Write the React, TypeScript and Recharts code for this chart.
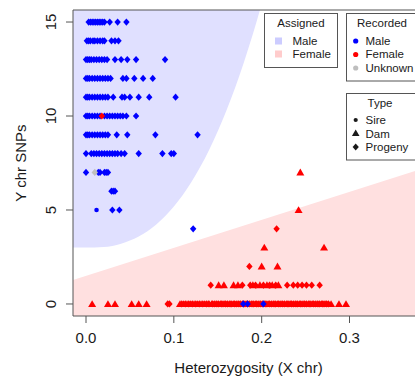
import { ComposedChart, Area, Scatter, XAxis, YAxis, ReferenceArea } from 'recharts'

const X_MIN = -0.0148
const X_MAX = 0.3848
const Y_MIN = -0.64
const Y_MAX = 15.64

const xTicks = [0, 0.1, 0.2, 0.3]
const yTicks = [0, 5, 10, 15]

// boundary of the "assigned male" region (filled up to the top)
const maleRegionEdge = [
  { x: -0.0148, y: 3.0 },
  { x: 0.0, y: 3.0 },
  { x: 0.02, y: 3.03 },
  { x: 0.04, y: 3.21 },
  { x: 0.06, y: 3.59 },
  { x: 0.08, y: 4.23 },
  { x: 0.1, y: 5.18 },
  { x: 0.12, y: 6.49 },
  { x: 0.14, y: 8.18 },
  { x: 0.16, y: 10.3 },
  { x: 0.18, y: 12.89 },
  { x: 0.19, y: 14.36 },
  { x: 0.198, y: 15.64 },
]

// boundary of the "assigned female" region (filled down to the bottom)
const femaleRegionEdge = [
  { x: -0.0148, y: 1.28 },
  { x: 0.3848, y: 7.23 },
]

type Row = [number, number[]]

const maleProgeny: Row[] = [
  [15, [0.003, 0.005, 0.007, 0.009, 0.011, 0.013, 0.015, 0.017, 0.019, 0.021, 0.027, 0.036, 0.046]],
  [14, [0.001, 0.003, 0.005, 0.008, 0.01, 0.013, 0.016, 0.019, 0.021, 0.029, 0.033, 0.037]],
  [13, [0.0, 0.002, 0.004, 0.006, 0.009, 0.012, 0.015, 0.018, 0.021, 0.024, 0.033, 0.04, 0.047, 0.057, 0.09]],
  [12, [0.0, 0.002, 0.004, 0.007, 0.01, 0.013, 0.016, 0.019, 0.022, 0.025, 0.028, 0.042, 0.046, 0.055, 0.065, 0.076]],
  [11, [0.0, 0.002, 0.004, 0.007, 0.01, 0.013, 0.016, 0.019, 0.022, 0.025, 0.031, 0.041, 0.044, 0.05, 0.06, 0.072, 0.102]],
  [10, [0.0, 0.002, 0.004, 0.007, 0.01, 0.013, 0.016, 0.021, 0.024, 0.027, 0.03, 0.033, 0.036, 0.039, 0.042, 0.046, 0.057]],
  [9, [0.0, 0.002, 0.004, 0.007, 0.01, 0.013, 0.016, 0.019, 0.022, 0.025, 0.035, 0.047, 0.079, 0.127]],
  [8, [0.0, 0.006, 0.009, 0.012, 0.015, 0.018, 0.021, 0.024, 0.027, 0.03, 0.033, 0.036, 0.04, 0.044, 0.06, 0.087, 0.097, 0.1]],
  [7, [0.0, 0.014, 0.016, 0.021, 0.023, 0.025]],
  [6, [0.029, 0.031, 0.033]],
  [5, [0.03, 0.038]],
  [4, [0.122]],
]
const maleProgenyLow: Row[] = [[0, [0.179, 0.184, 0.202]]]
const maleSires: Row[] = [[5, [0.012]]]
const unknownProgeny: Row[] = [[7, [0.01]]]

const femaleDams: Row[] = [
  [7, [0.244]],
  [5, [0.242]],
  [3, [0.203, 0.271]],
  [2, [0.2, 0.218]],
  [1, [0.151, 0.157, 0.168, 0.173, 0.19, 0.198, 0.206, 0.212, 0.219]],
  [0, [0.007, 0.025, 0.033, 0.052, 0.06, 0.069, 0.107, 0.111, 0.115, 0.119, 0.123, 0.127, 0.131, 0.135, 0.139, 0.143,
    0.148, 0.153, 0.158, 0.163, 0.168, 0.173, 0.178, 0.183, 0.188, 0.193, 0.198, 0.203, 0.208, 0.213, 0.218, 0.223,
    0.228, 0.233, 0.238, 0.243, 0.248, 0.253, 0.258, 0.263, 0.268, 0.273, 0.279, 0.288, 0.296]],
]
const femaleProgeny: Row[] = [
  [10, [0.018]],
  [4, [0.217]],
  [2, [0.186]],
  [1, [0.142, 0.178, 0.187, 0.193, 0.202, 0.209, 0.216, 0.229, 0.236, 0.241, 0.246, 0.251, 0.257, 0.266]],
  [0, [0.093, 0.095, 0.109, 0.113, 0.117, 0.121, 0.125, 0.129, 0.133, 0.137, 0.14, 0.144, 0.146, 0.149, 0.151, 0.154,
    0.156, 0.159, 0.161, 0.164, 0.166, 0.169, 0.171, 0.174, 0.176, 0.179, 0.181, 0.184, 0.186, 0.189, 0.191, 0.194,
    0.196, 0.199, 0.201, 0.204, 0.206, 0.209, 0.211, 0.214, 0.216, 0.219, 0.221, 0.224, 0.226, 0.229, 0.231, 0.234,
    0.236, 0.239, 0.241, 0.244, 0.246, 0.249, 0.251, 0.254, 0.256, 0.259, 0.261, 0.264, 0.266, 0.269, 0.271, 0.274,
    0.276]],
]

const BLUE = '#0000ff'
const RED = '#ff0000'
const GREY = '#bebebe'
const INK = '#1a1a1a'
const FRAME = '#555555'
const FONT = '"Liberation Sans", Arial, sans-serif'

const toPoints = (rows: Row[]) => rows.flatMap(([y, xs]) => xs.map((x) => ({ x, y })))

const diamond = (color: string) => (p: any) => {
  const { cx, cy } = p
  if (cx == null || cy == null) return <g />
  return <polygon points={`${cx},${cy - 3.6} ${cx + 3.2},${cy} ${cx},${cy + 3.6} ${cx - 3.2},${cy}`} fill={color} />
}
const triangle = (color: string) => (p: any) => {
  const { cx, cy } = p
  if (cx == null || cy == null) return <g />
  return <polygon points={`${cx},${cy - 3.8} ${cx + 4},${cy + 3} ${cx - 4},${cy + 3}`} fill={color} />
}
const dot = (color: string) => (p: any) => {
  const { cx, cy } = p
  if (cx == null || cy == null) return <g />
  return <circle cx={cx} cy={cy} r={2.3} fill={color} />
}

function XTick({ x, y, payload }: any) {
  return (
    <text x={x} y={y + 20} textAnchor="middle" fontSize={15} fontFamily={FONT} fill={INK}>
      {payload.value.toFixed(1)}
    </text>
  )
}

function YTick({ x, y, payload }: any) {
  return (
    <text x={x - 10} y={y} textAnchor="middle" fontSize={15} fontFamily={FONT} fill={INK}
      transform={`rotate(-90, ${x - 10}, ${y})`}>
      {payload.value}
    </text>
  )
}

function YTitle({ viewBox }: any) {
  const x = viewBox.x + 26
  const y = viewBox.y + viewBox.height / 2
  return (
    <text x={x} y={y} textAnchor="middle" fontSize={15} fontFamily={FONT} fill={INK}
      transform={`rotate(-90, ${x}, ${y})`}>
      Y chr SNPs
    </text>
  )
}

function Legends() {
  const txt = { fontSize: 11.5, fontFamily: FONT, fill: INK }
  return (
    <svg width={415} height={380} style={{ position: 'absolute', left: 0, top: 0, pointerEvents: 'none' }}>
      <rect x={264.5} y={13.5} width={73} height={54} fill="#fff" stroke={FRAME} />
      <text x={301} y={27} textAnchor="middle" {...txt}>Assigned</text>
      <rect x={275} y={37.5} width={7} height={7} fill="#ccccff" />
      <text x={292.5} y={45} {...txt}>Male</text>
      <rect x={275} y={50.5} width={7} height={7} fill="#ffcccc" />
      <text x={292.5} y={58} {...txt}>Female</text>

      <rect x={346.5} y={13.5} width={70} height={67.5} fill="#fff" stroke={FRAME} />
      <text x={382} y={27} textAnchor="middle" {...txt}>Recorded</text>
      <circle cx={355.7} cy={41} r={2.6} fill={BLUE} />
      <text x={365.5} y={45} {...txt}>Male</text>
      <circle cx={355.7} cy={54.5} r={2.6} fill={RED} />
      <text x={365.5} y={58} {...txt}>Female</text>
      <circle cx={355.7} cy={68} r={2.6} fill={GREY} />
      <text x={365.5} y={72} {...txt}>Unknown</text>

      <rect x={346.5} y={93.5} width={70} height={66.5} fill="#fff" stroke={FRAME} />
      <text x={380} y={107} textAnchor="middle" {...txt}>Type</text>
      <circle cx={355.7} cy={120} r={2.1} fill={INK} />
      <text x={365.5} y={124} {...txt}>Sire</text>
      <polygon points="355.7,129.5 359.5,136 351.9,136" fill={INK} />
      <text x={365.5} y={138} {...txt}>Dam</text>
      <polygon points="355.7,143.5 358.8,147 355.7,150.5 352.6,147" fill={INK} />
      <text x={365.5} y={151} {...txt}>Progeny</text>
    </svg>
  )
}

export default function App() {
  return (
    <div style={{ position: 'absolute', left: 0, top: 0, width: 415, height: 380, overflow: 'hidden', background: '#fff' }}>
      <ComposedChart width={430} height={380} margin={{ top: 10, right: 6, bottom: 0, left: 0 }}>
        <XAxis
          type="number"
          dataKey="x"
          domain={[X_MIN, X_MAX]}
          ticks={xTicks}
          allowDataOverflow
          height={64}
          axisLine={false}
          tickLine={{ stroke: FRAME }}
          tickSize={7}
          tickMargin={0}
          tick={<XTick />}
          label={{ value: 'Heterozygosity (X chr)', position: 'insideBottom', offset: 7, fontSize: 15, fontFamily: FONT, fill: INK }}
        />
        <YAxis
          type="number"
          dataKey="y"
          domain={[Y_MIN, Y_MAX]}
          ticks={yTicks}
          allowDataOverflow
          width={73}
          axisLine={false}
          tickLine={{ stroke: FRAME }}
          tickSize={7}
          tickMargin={0}
          tick={<YTick />}
          label={<YTitle />}
        />
        <Area data={maleRegionEdge} dataKey="y" type="monotone" baseValue={Y_MAX} stroke="none" fill="#e0e0ff" fillOpacity={1} isAnimationActive={false} />
        <Area data={femaleRegionEdge} dataKey="y" type="linear" baseValue={Y_MIN} stroke="none" fill="#ffe0e0" fillOpacity={1} isAnimationActive={false} />
        <Scatter data={toPoints(maleProgeny)} dataKey="y" shape={diamond(BLUE)} isAnimationActive={false} />
        <Scatter data={toPoints(maleSires)} dataKey="y" shape={dot(BLUE)} isAnimationActive={false} />
        <Scatter data={toPoints(unknownProgeny)} dataKey="y" shape={diamond(GREY)} isAnimationActive={false} />
        <Scatter data={toPoints(femaleDams)} dataKey="y" shape={triangle(RED)} isAnimationActive={false} />
        <Scatter data={toPoints(femaleProgeny)} dataKey="y" shape={diamond(RED)} isAnimationActive={false} />
        <Scatter data={toPoints(maleProgenyLow)} dataKey="y" shape={diamond(BLUE)} isAnimationActive={false} />
        <ReferenceArea x1={X_MIN} x2={X_MAX} y1={Y_MIN} y2={Y_MAX} fill="none" stroke={FRAME} strokeWidth={1} ifOverflow="visible" />
      </ComposedChart>
      <Legends />
    </div>
  )
}
